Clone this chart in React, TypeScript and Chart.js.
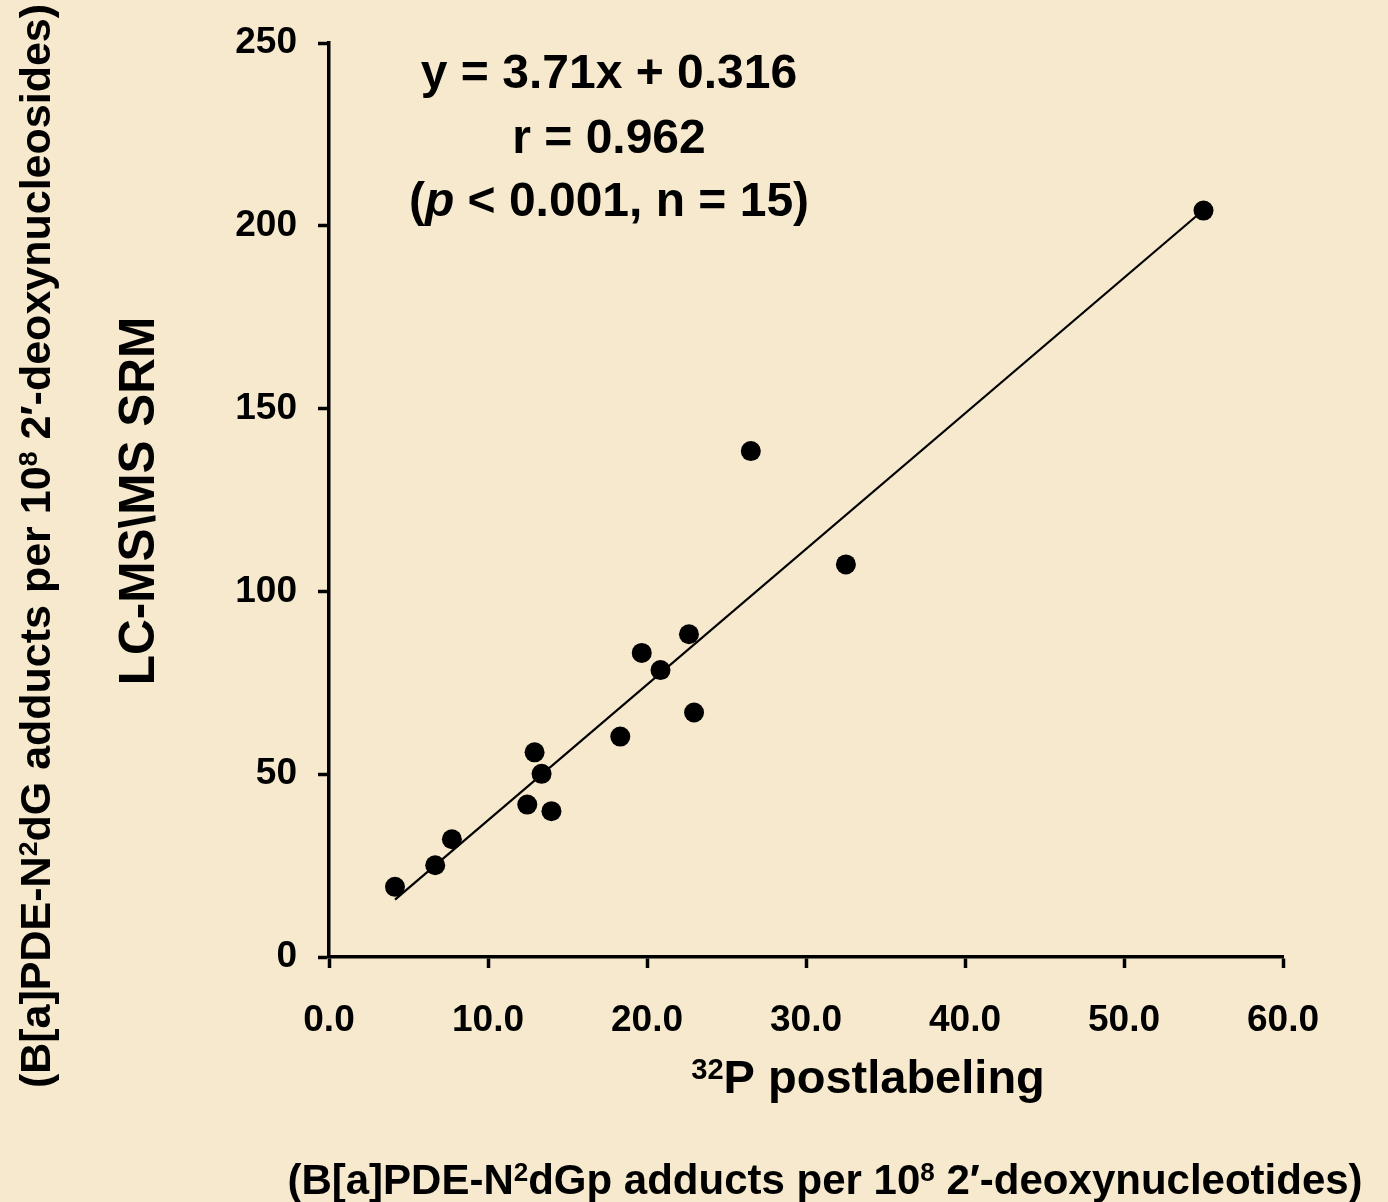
import React, { useEffect, useRef } from "react";
import { Chart, registerables } from "chart.js";

Chart.register(...registerables);

// ---- data ----
const xValues = [4.15, 6.68, 7.73, 12.47, 12.93, 13.37, 13.99, 18.32, 19.67, 20.85, 22.64, 22.96, 26.53, 32.51, 55.0];
const yValues = [19.2, 25.1, 32.2, 41.7, 56.0, 50.1, 39.9, 60.3, 83.2, 78.5, 88.3, 66.9, 138.4, 107.4, 204.2];
const slope = 3.71;
const intercept = 0.316;
const xTicks = [0, 10, 20, 30, 40, 50, 60];
const yTicks = [0, 50, 100, 150, 200, 250];

type Seg = { t: string; sup?: boolean; italic?: boolean };

const eqLine1: Seg[] = [{ t: "y = 3.71x + 0.316" }];
const eqLine2: Seg[] = [{ t: "r = 0.962" }];
const eqLine3: Seg[] = [{ t: "(" }, { t: "p", italic: true }, { t: " < 0.001, n = 15)" }];
const xTitle1: Seg[] = [{ t: "32", sup: true }, { t: "P postlabeling" }];
const xTitle2: Seg[] = [
  { t: "(B[a]PDE-N" }, { t: "2", sup: true }, { t: "dGp adducts per 10" }, { t: "8", sup: true },
  { t: " 2\u2032-deoxynucleotides)" },
];
const yTitle1: Seg[] = [{ t: "LC-MS\\MS SRM" }];
const yTitle2: Seg[] = [
  { t: "(B[a]PDE-N" }, { t: "2", sup: true }, { t: "dG adducts per 10" }, { t: "8", sup: true },
  { t: " 2\u2032-deoxynucleosides)" },
];

const FAMILY = '"Liberation Sans", Arial, Helvetica, sans-serif';
const BG = "#F6E9CD";

function fontFor(seg: Seg, size: number) {
  const s = seg.sup ? size * 0.62 : size;
  return `${seg.italic ? "italic " : ""}bold ${s}px ${FAMILY}`;
}

function drawRich(
  ctx: CanvasRenderingContext2D,
  segs: Seg[],
  cx: number,
  baseY: number,
  size: number,
  rotate = false
) {
  ctx.save();
  ctx.translate(cx, baseY);
  if (rotate) ctx.rotate(-Math.PI / 2);
  ctx.textBaseline = "alphabetic";
  ctx.textAlign = "left";
  ctx.fillStyle = "#000";
  let total = 0;
  const widths = segs.map((s) => {
    ctx.font = fontFor(s, size);
    const w = ctx.measureText(s.t).width;
    total += w;
    return w;
  });
  let x = -total / 2;
  segs.forEach((s, i) => {
    ctx.font = fontFor(s, size);
    ctx.fillText(s.t, x, s.sup ? -size * 0.3 : 0);
    x += widths[i];
  });
  ctx.restore();
}

const bgPlugin = {
  id: "bgFill",
  beforeDraw(chart: any) {
    const ctx = chart.ctx;
    ctx.save();
    ctx.fillStyle = BG;
    ctx.fillRect(0, 0, chart.width, chart.height);
    ctx.restore();
  },
};

const textPlugin = {
  id: "richTexts",
  afterDraw(chart: any) {
    const ctx = chart.ctx as CanvasRenderingContext2D;
    drawRich(ctx, eqLine1, 609, 88, 48);
    drawRich(ctx, eqLine2, 609, 153, 48);
    drawRich(ctx, eqLine3, 609, 216, 48);
    drawRich(ctx, xTitle1, 868, 1093, 47);
    drawRich(ctx, xTitle2, 825, 1194, 42);
    drawRich(ctx, yTitle1, 154, 501, 49.5, true);
    drawRich(ctx, yTitle2, 50, 546, 43, true);
  },
};

export default function App() {
  const ref = useRef<HTMLCanvasElement | null>(null);

  useEffect(() => {
    if (!ref.current) return;
    const xMin = Math.min(...xValues);
    const xMax = Math.max(...xValues);
    const tickFont = { family: FAMILY, size: 37, weight: "bold" as const };
    const chart = new Chart(ref.current, {
      type: "scatter",
      data: {
        datasets: [
          {
            label: "data",
            data: xValues.map((x, i) => ({ x, y: yValues[i] })),
            backgroundColor: "#000",
            borderColor: "#000",
            borderWidth: 0,
            pointRadius: 10,
            showLine: false,
          },
          {
            label: "fit",
            data: [
              { x: xMin, y: slope * xMin + intercept },
              { x: xMax, y: slope * xMax + intercept },
            ],
            showLine: true,
            borderColor: "#000",
            borderWidth: 2.2,
            pointRadius: 0,
            fill: false,
          },
        ],
      },
      options: {
        responsive: false,
        animation: false,
        devicePixelRatio: 1,
        layout: { padding: { left: 0, top: 40, right: 105, bottom: 0 } },
        plugins: { legend: { display: false }, tooltip: { enabled: false } },
        scales: {
          x: {
            type: "linear",
            position: "bottom",
            min: 0,
            max: 60,
            afterBuildTicks: (s: any) => {
              s.ticks = xTicks.map((v) => ({ value: v }));
            },
            afterFit: (s: any) => {
              s.height = 245;
            },
            ticks: {
              font: tickFont,
              color: "#000",
              padding: 31,
              maxRotation: 0,
              callback: (v: any) => Number(v).toFixed(1),
            },
            grid: {
              drawOnChartArea: false,
              drawTicks: true,
              tickLength: 11,
              tickWidth: 3.5,
              color: "#000",
            },
            border: { display: true, color: "#000", width: 3.5 },
          },
          y: {
            type: "linear",
            min: 0,
            max: 250,
            afterBuildTicks: (s: any) => {
              s.ticks = yTicks.map((v) => ({ value: v }));
            },
            afterFit: (s: any) => {
              s.width = 329;
            },
            ticks: {
              font: tickFont,
              color: "#000",
              padding: 21,
              callback: (v: any) => String(v),
            },
            grid: {
              drawOnChartArea: false,
              drawTicks: true,
              tickLength: 11,
              tickWidth: 3.5,
              color: "#000",
            },
            border: { display: true, color: "#000", width: 3.5 },
          },
        },
      },
      plugins: [bgPlugin, textPlugin],
    });
    return () => chart.destroy();
  }, []);

  return (
    <div style={{ position: "absolute", left: 0, top: 0, width: 1388, height: 1202 }}>
      <canvas ref={ref} width={1388} height={1202} style={{ display: "block" }} />
    </div>
  );
}
